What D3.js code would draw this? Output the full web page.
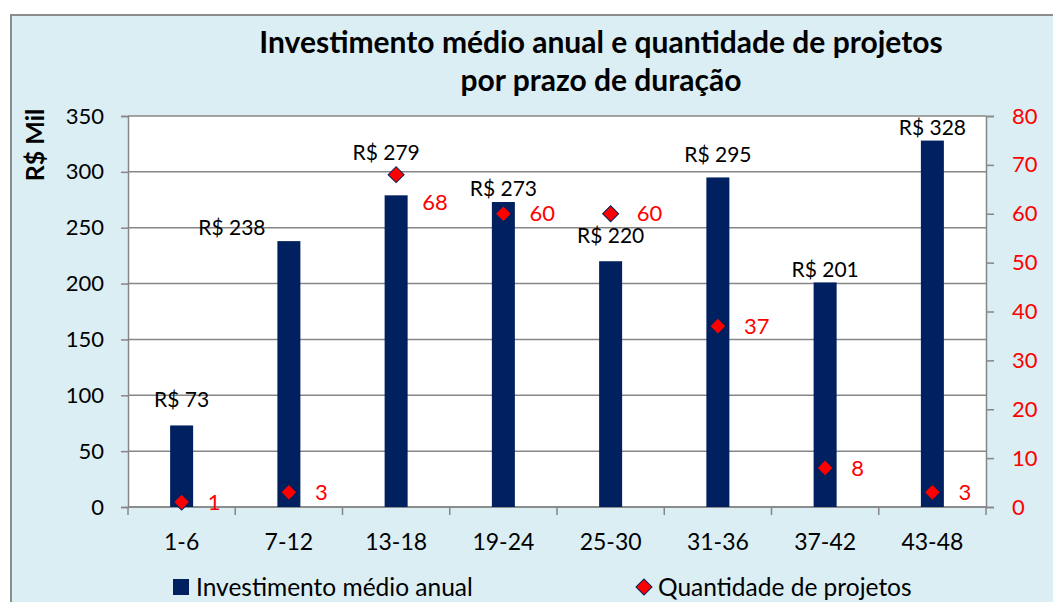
<!DOCTYPE html>
<html>
<head>
<meta charset="UTF-8">
<style>
  body { margin: 0; background: #fff; font-family: Lato, sans-serif; }
  svg { display: block; }
</style>
</head>
<body>
<script src="https://d3js.org/d3.v7.min.js"></script>
<div id="chart"></div>
<script>
  // data
  var categories = ["1-6", "7-12", "13-18", "19-24", "25-30", "31-36", "37-42", "43-48"];
  var investimento = [73, 238, 279, 273, 220, 295, 201, 328];
  var quantidade = [1, 3, 68, 60, 60, 37, 8, 3];
  var leftTicks = [0, 50, 100, 150, 200, 250, 300, 350];
  var rightTicks = [0, 10, 20, 30, 40, 50, 60, 70, 80];
  var seriesNames = ["Investimento médio anual", "Quantidade de projetos"];
  var titleLines = ["Investimento médio anual e quantidade de projetos", "por prazo de duração"];

  // hand-moved labels (layout only, dx/dy in px)
  var barLabelNudge = [[0, -13], [-57, 0], [-10, -30], [0, 0], [0, -13], [0, -10], [0, 0], [0, 0]];
  var qtdLabelNudge = [[0, 0], [0, 0], [0, 28], [0, 0], [0, 0], [0, 0], [0, 0], [0, 0]];

  var W = 1053, H = 602;
  var plot = {left: 128, right: 986, top: 116, bottom: 507};
  var navy = "#002060", grid = "#868686";

  var svg = d3.select("#chart").append("svg")
    .attr("width", W)
    .attr("height", H);

  // chart area background + frame
  svg.append("rect")
    .attr("x", 11).attr("y", 15)
    .attr("width", W + 20).attr("height", H + 20)
    .attr("fill", "#DBEEF4")
    .attr("stroke", "#8c8c8c")
    .attr("stroke-width", 2);

  svg.append("rect")
    .attr("x", plot.left).attr("y", plot.top)
    .attr("width", plot.right - plot.left).attr("height", plot.bottom - plot.top)
    .attr("fill", "#fff");

  var x = d3.scaleBand().domain(categories).range([plot.left, plot.right]).padding(0);
  var yL = d3.scaleLinear().domain([0, 350]).range([plot.bottom, plot.top]);
  var yR = d3.scaleLinear().domain([0, 80]).range([plot.bottom, plot.top]);

  // gridlines
  svg.append("g")
    .selectAll("line")
    .data(leftTicks)
    .join("line")
    .attr("x1", plot.left).attr("x2", plot.right)
    .attr("y1", d => yL(d)).attr("y2", d => yL(d))
    .attr("stroke", grid).attr("stroke-width", 1.5);

  // left axis
  var gL = svg.append("g")
    .attr("transform", `translate(${plot.left},0)`)
    .call(d3.axisLeft(yL).tickValues(leftTicks).tickSize(7).tickPadding(17));
  gL.select(".domain").attr("stroke", grid).attr("stroke-width", 1.5);
  gL.selectAll(".tick line").attr("stroke", grid).attr("stroke-width", 1.5);
  gL.selectAll(".tick text").attr("font-family", "Lato, sans-serif").attr("font-size", 22).attr("fill", "#000");

  // right axis
  var gR = svg.append("g")
    .attr("transform", `translate(${plot.right},0)`)
    .call(d3.axisRight(yR).tickValues(rightTicks).tickSize(8).tickPadding(18));
  gR.select(".domain").attr("stroke", grid).attr("stroke-width", 1.5);
  gR.selectAll(".tick line").attr("stroke", grid).attr("stroke-width", 1.5);
  gR.selectAll(".tick text").attr("font-family", "Lato, sans-serif").attr("font-size", 22).attr("fill", "#FF0000");

  // bottom axis: ticks at category boundaries
  var boundaries = categories.map(c => x(c)).concat([plot.right]);
  var gB = svg.append("g");
  gB.append("line")
    .attr("x1", plot.left).attr("x2", plot.right)
    .attr("y1", plot.bottom).attr("y2", plot.bottom)
    .attr("stroke", grid).attr("stroke-width", 1.5);
  gB.selectAll(".tk")
    .data(boundaries)
    .join("line")
    .attr("class", "tk")
    .attr("x1", d => d).attr("x2", d => d)
    .attr("y1", plot.bottom).attr("y2", plot.bottom + 8)
    .attr("stroke", grid).attr("stroke-width", 1.5);
  gB.selectAll("text")
    .data(categories)
    .join("text")
    .attr("x", d => x(d) + x.bandwidth() / 2)
    .attr("y", 542)
    .attr("dy", "0.35em")
    .attr("text-anchor", "middle")
    .attr("font-size", 23)
    .text(d => d);

  // bars
  var barW = 23;
  svg.append("g")
    .selectAll("rect")
    .data(investimento)
    .join("rect")
    .attr("x", (d, i) => x(categories[i]) + x.bandwidth() / 2 - barW / 2)
    .attr("y", d => yL(d))
    .attr("width", barW)
    .attr("height", d => plot.bottom - yL(d))
    .attr("fill", navy);

  // bar labels
  svg.append("g")
    .selectAll("text")
    .data(investimento)
    .join("text")
    .attr("x", (d, i) => x(categories[i]) + x.bandwidth() / 2 + barLabelNudge[i][0])
    .attr("y", (d, i) => yL(d) - 13 + barLabelNudge[i][1])
    .attr("dy", "0.35em")
    .attr("text-anchor", "middle")
    .attr("font-size", 21)
    .attr("fill", "#000")
    .text(d => "R$ " + d);

  // diamonds
  var diamond = d3.symbol().type(d3.symbolSquare).size(128);
  svg.append("g")
    .selectAll("path")
    .data(quantidade)
    .join("path")
    .attr("d", diamond)
    .attr("transform", (d, i) => `translate(${x(categories[i]) + x.bandwidth() / 2},${yR(d)}) rotate(45)`)
    .attr("fill", "#FF0000")
    .attr("stroke", navy)
    .attr("stroke-width", 1);

  svg.append("g")
    .selectAll("text")
    .data(quantidade)
    .join("text")
    .attr("x", (d, i) => x(categories[i]) + x.bandwidth() / 2 + 26 + qtdLabelNudge[i][0])
    .attr("y", (d, i) => yR(d) + qtdLabelNudge[i][1])
    .attr("dy", "0.35em")
    .attr("font-size", 22)
    .attr("fill", "#FF0000")
    .text(d => d);

  // y axis title
  svg.append("text")
    .attr("transform", "translate(35,145) rotate(-90)")
    .attr("dy", "0.35em")
    .attr("text-anchor", "middle")
    .attr("font-weight", "bold")
    .attr("font-size", 25)
    .text("R$ Mil");

  // title
  svg.append("g")
    .selectAll("text")
    .data(titleLines)
    .join("text")
    .attr("x", 601)
    .attr("y", (d, i) => 42 + i * 38)
    .attr("dy", "0.35em")
    .attr("text-anchor", "middle")
    .attr("font-weight", "bold")
    .attr("font-size", 30)
    .text(d => d);

  // legend
  var lg = svg.append("g");
  lg.append("rect")
    .attr("x", 173).attr("y", 579).attr("width", 16).attr("height", 16)
    .attr("fill", navy);
  lg.append("text")
    .attr("x", 196).attr("y", 587).attr("dy", "0.35em")
    .attr("font-size", 24.5)
    .text(seriesNames[0]);
  lg.append("path")
    .attr("d", diamond)
    .attr("transform", "translate(644,587) rotate(45)")
    .attr("fill", "#FF0000")
    .attr("stroke", navy)
    .attr("stroke-width", 1);
  lg.append("text")
    .attr("x", 658).attr("y", 587).attr("dy", "0.35em")
    .attr("font-size", 24.5)
    .text(seriesNames[1]);
</script>
</body>
</html>
